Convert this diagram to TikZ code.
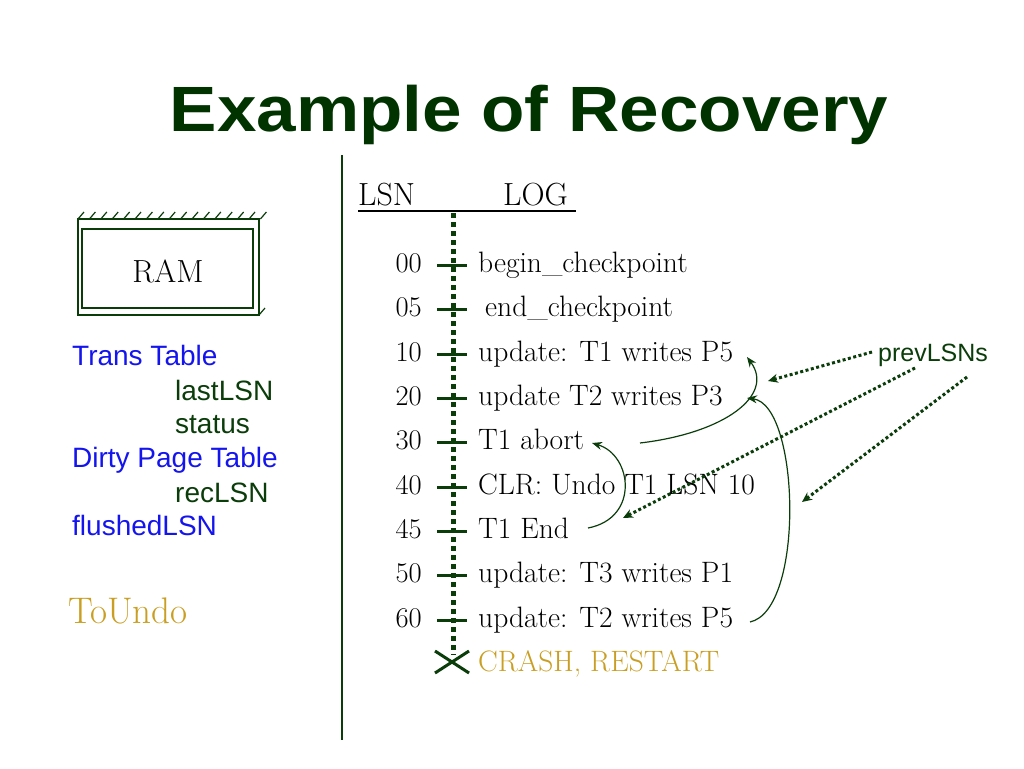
\documentclass[tikz,border=0pt]{standalone}
\usepackage{fontspec}
\setsansfont{Liberation Sans}
\usepackage{tikz}
\usetikzlibrary{arrows.meta}
\definecolor{dkgreen}{HTML}{0B3D0B}
\definecolor{ttlgreen}{HTML}{003300}
\definecolor{tblue}{HTML}{1414EE}
\definecolor{gold}{HTML}{C99E22}

\begin{document}
\begin{tikzpicture}[x=1pt, y=-1pt,
  ttl/.style={font=\fontsize{64}{64}\selectfont\sffamily\bfseries, text=ttlgreen, anchor=base, inner sep=0pt},
  hdr/.style={font=\fontsize{32}{32}\selectfont, anchor=base west, inner sep=0pt},
  num/.style={font=\fontsize{28.5}{28.5}\selectfont, anchor=base east, inner sep=0pt},
  entry/.style={font=\fontsize{29.5}{29.5}\selectfont, anchor=base west, inner sep=0pt},
  tbl/.style={font=\fontsize{28}{28}\selectfont\sffamily, anchor=base west, inner sep=0pt},
  tick/.style={draw=dkgreen, line width=3pt},
  curv/.style={draw=dkgreen, line width=1.2pt, -{Stealth[length=10pt, width=8pt]}},
  dots/.style={draw=dkgreen, line width=3pt, dash pattern=on 3pt off 2.5pt, -{Stealth[length=10pt, width=9pt]}}
]
\useasboundingbox (0,0) rectangle (1024,768);
\node[ttl] (title) at (529,131) {\scalebox{1.11}[1]{Example of Recovery}};
% separator
\draw[dkgreen, line width=1.5pt] (342,155) -- (342,740);
% RAM box
\draw[dkgreen, line width=2.5pt] (78,219) rectangle (259,315);
\draw[dkgreen, line width=1.5pt] (82,229) rectangle (253,308);
\foreach \i in {0,...,16}
  \draw[dkgreen, line width=1.2pt] ({78+\i*11.4},219) -- ++(6,-7);
\draw[dkgreen, line width=1.2pt] (259,315) -- ++(6,-7);
\node[font=\fontsize{32}{32}\selectfont, anchor=base, inner sep=0pt] (ram) at (168,282) {RAM};
% tables
\node[tbl, text=tblue] (trans) at (72,365) {Trans Table};
\node[tbl, text=dkgreen] (last) at (175,400) {lastLSN};
\node[tbl, text=dkgreen] (stat) at (175,433) {status};
\node[tbl, text=tblue] (dirty) at (72,467) {Dirty Page Table};
\node[tbl, text=dkgreen] (rec) at (175,502) {recLSN};
\node[tbl, text=tblue] (flushed) at (72,535) {flushedLSN};
\node[font=\fontsize{37}{37}\selectfont, text=gold, anchor=base west, inner sep=0pt] (toundo) at (68,623) {ToUndo};
% log header
\node[hdr] (lsn) at (358,205) {LSN};
\node[hdr] (log) at (503,205) {LOG};
\draw[line width=1.5pt] (358,211) -- (576,211);
\draw[dkgreen, line width=5pt, dash pattern=on 5pt off 4pt] (453,213) -- (453,655);
% log records
\node[num] (n00) at (422,272) {00};
\node[num] (n05) at (422,316) {05};
\node[num] (n10) at (422,361) {10};
\node[num] (n20) at (422,405) {20};
\node[num] (n30) at (422,449) {30};
\node[num] (n40) at (422,494) {40};
\node[num] (n45) at (422,538) {45};
\node[num] (n50) at (422,582) {50};
\node[num] (n60) at (422,627) {60};
\node[entry] (l00) at (478,272) {begin\_checkpoint};
\node[entry] (l05) at (485,316) {end\_checkpoint};
\node[entry] (l10) at (478,361) {update: T1 writes P5};
\node[entry] (l20) at (478,405) {update T2 writes P3};
\node[entry] (l30) at (478,449) {T1 abort};
\node[entry] (l40) at (478,494) {CLR: Undo T1 LSN 10};
\node[entry] (l45) at (478,538) {T1 End};
\node[entry] (l50) at (478,582) {update: T3 writes P1};
\node[entry] (l60) at (478,627) {update: T2 writes P5};
\node[entry, text=gold] (crash) at (478,671) {CRASH, RESTART};
\foreach \y in {272,316,361,405,449,494,538,582,627}
  \draw[tick] (437,\y-7) -- (467,\y-7);
\draw[dkgreen, line width=3pt] (435,651) -- (469,673) (435,673) -- (469,651);
% prevLSN chains
\coordinate (a30) at (640,443);
\coordinate (h10) at (747,357);
\coordinate (a60) at (750,622);
\coordinate (h20) at (747,398);
\coordinate (a45) at (588,528);
\coordinate (h30) at (592,443);
\draw[curv] (a30) .. controls (725,433) and (775,395) .. (h10);
\draw[curv] (a60) .. controls (805,610) and (800,405) .. (h20);
\draw[curv] (a45) .. controls (640,518) and (632,455) .. (h30);
\node[font=\fontsize{25}{25}\selectfont\sffamily, text=dkgreen, anchor=base west, inner sep=0pt] (prev) at (878,361) {prevLSNs};
\coordinate (p1) at (872,352);
\coordinate (p2) at (915,368);
\coordinate (p3) at (967,377);
\draw[dots] (p1) -- (768,381);
\draw[dots] (p2) -- (623,518);
\draw[dots] (p3) -- (802,502);
\end{tikzpicture}
\end{document}
